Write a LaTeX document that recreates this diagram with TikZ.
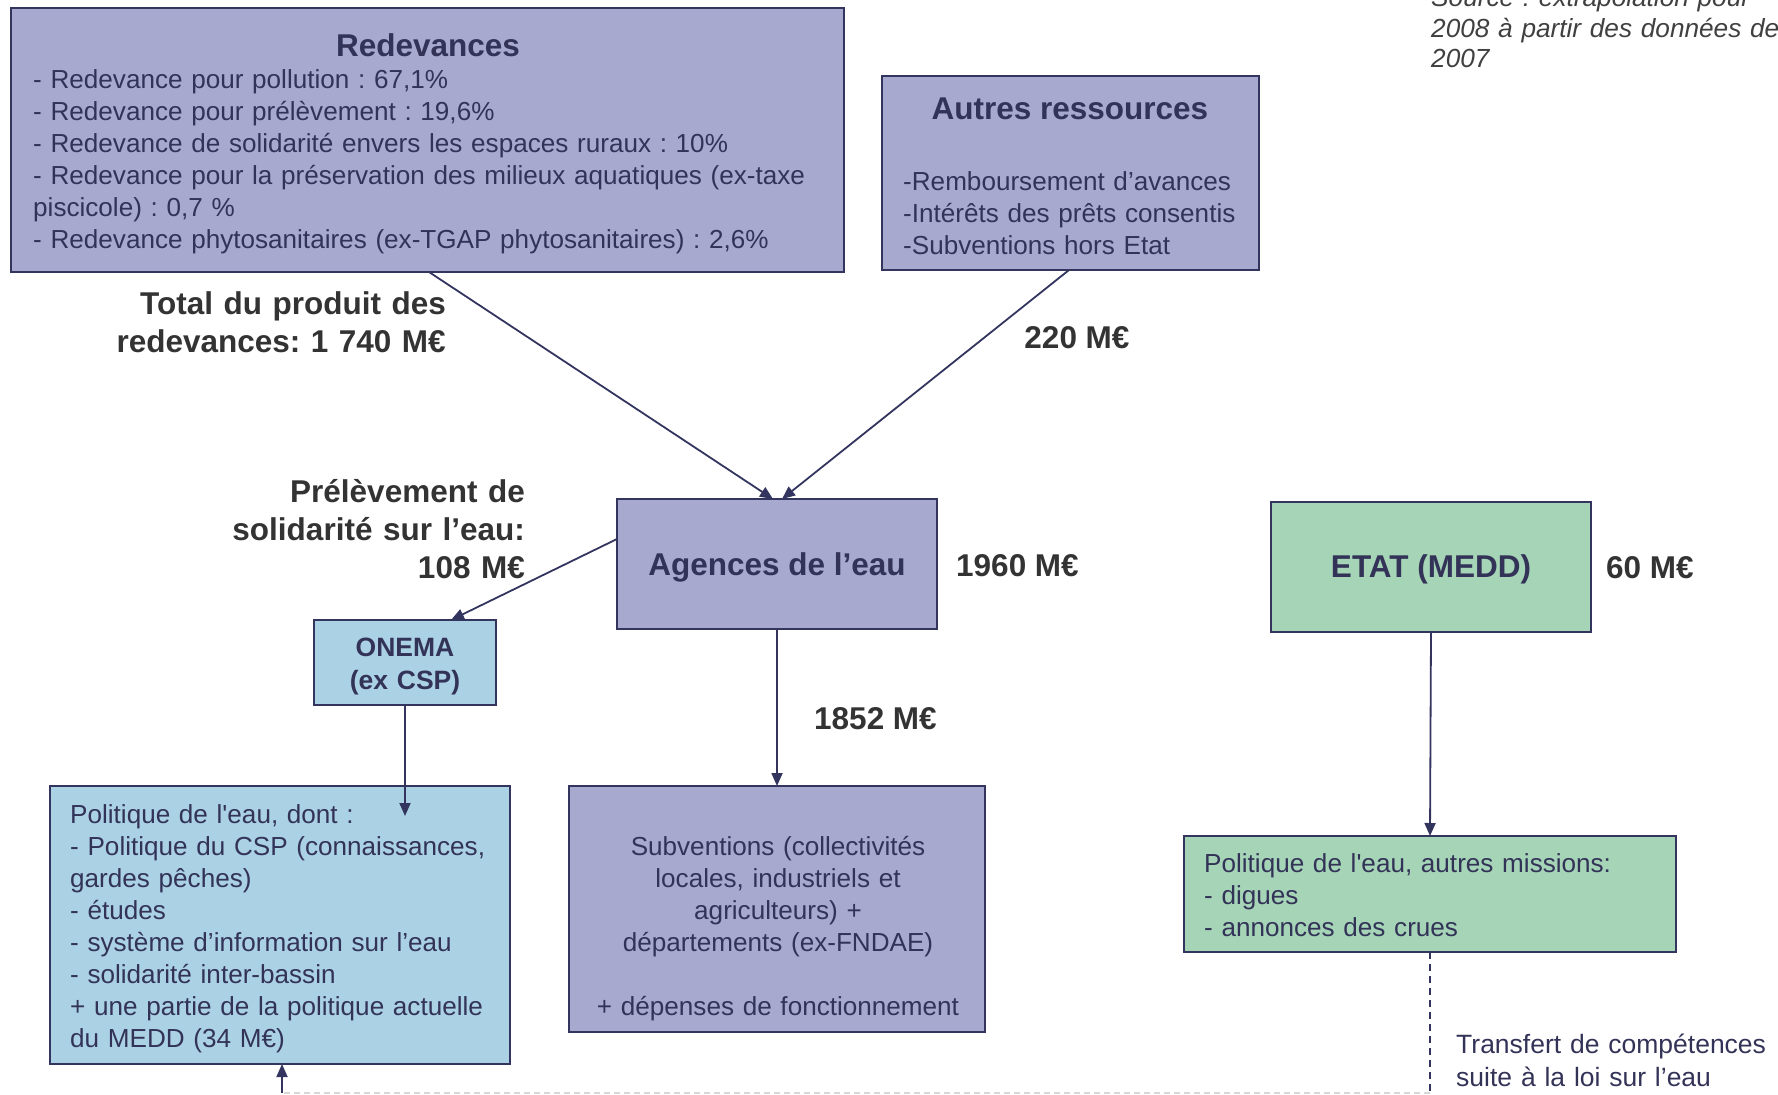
\documentclass[tikz,border=0pt]{standalone}
\usepackage{fontspec}
\setmainfont{Liberation Sans}
\usetikzlibrary{arrows.meta,calc}
\frenchspacing
\definecolor{purplefill}{HTML}{A7A9CE}
\definecolor{bluefill}{HTML}{AAD1E4}
\definecolor{greenfill}{HTML}{A5D4B7}
\definecolor{navy}{HTML}{34355F}
\definecolor{boxtext}{HTML}{333358}
\definecolor{labeltext}{HTML}{333333}
\definecolor{srctext}{HTML}{404040}
\definecolor{faint}{HTML}{D8D8D8}
\tikzset{
  boxshape/.style={draw=navy, line width=2.3pt, inner sep=0pt, outer sep=0pt},
  bodytext/.style={inner sep=0pt, text=boxtext, font=\fontsize{26.1}{32}\selectfont},
  titletext/.style={inner sep=0pt, text=boxtext, font=\bfseries\fontsize{31.5}{38}\selectfont},
  labeltxt/.style={inner sep=0pt, text=labeltext, font=\bfseries\fontsize{31.5}{38.3}\selectfont},
  flow/.style={draw=navy, line width=1.8pt, -{Triangle[length=13pt,width=11pt]}},
  dashflow/.style={draw=navy, line width=1.8pt, dash pattern=on 7pt off 5pt},
}
\begin{document}
\begin{tikzpicture}[x=1pt,y=-1pt]
\useasboundingbox (0,0) rectangle (1778,1095);

% boxes
\node[boxshape, fill=purplefill, minimum width=833, minimum height=264] (red) at (427.5,140) {};
\node[boxshape, fill=purplefill, minimum width=377, minimum height=194] (aut) at (1070.5,173) {};
\node[boxshape, fill=purplefill, minimum width=320, minimum height=130] (ag) at (777,564) {};
\node[boxshape, fill=greenfill, minimum width=320, minimum height=130] (etat) at (1431,567) {};
\node[boxshape, fill=bluefill, minimum width=182, minimum height=85] (onema) at (405,662.5) {};
\node[boxshape, fill=bluefill, minimum width=460, minimum height=278] (pol) at (280,925) {};
\node[boxshape, fill=purplefill, minimum width=416, minimum height=246] (sub) at (777,909) {};
\node[boxshape, fill=greenfill, minimum width=492, minimum height=116] (grn) at (1430,894) {};

% box texts
\node[titletext, anchor=base] (redt) at (428,56) {Redevances};
\node[bodytext, anchor=base west, text width=800, align=left] (redb) at (33,88)
 {- Redevance pour pollution : 67,1\%\\
  - Redevance pour prélèvement : 19,6\%\\
  - Redevance de solidarité envers les espaces ruraux : 10\%\\
  - Redevance pour la préservation des milieux aquatiques (ex-taxe\\
  piscicole) : 0,7 \%\\
  - Redevance phytosanitaires (ex-TGAP phytosanitaires) : 2,6\%};

\node[titletext, anchor=base] (autt) at (1070,119) {Autres ressources};
\node[bodytext, anchor=base west, text width=350, align=left] (autb) at (903,190)
 {-Remboursement d’avances\\
  -Intérêts des prêts consentis\\
  -Subventions hors Etat};

\node[titletext, anchor=base] (agt) at (777,575) {Agences de l’eau};
\node[titletext, anchor=base] (etatt) at (1431,577) {ETAT (MEDD)};
\node[inner sep=0pt, text=boxtext, font=\bfseries\fontsize{26.5}{33}\selectfont,
      anchor=base, text width=180, align=center] (onemat) at (405,656.5)
 {ONEMA\\(ex CSP)};

\node[bodytext, anchor=base west, text width=440, align=left] (polb) at (70,823)
 {Politique de l\textquotesingle eau, dont :\\
  - Politique du CSP (connaissances,\\
  gardes pêches)\\
  - études\\
  - système d’information sur l’eau\\
  - solidarité inter-bassin\\
  + une partie de la politique actuelle\\
  du MEDD (34 M€)};

\node[bodytext, anchor=base, text width=410, align=center] (subb) at (778,855)
 {Subventions (collectivités\\
  locales, industriels et\\
  agriculteurs) +\\
  départements (ex-FNDAE)\\[32pt]
  + dépenses de fonctionnement};

\node[bodytext, anchor=base west, text width=470, align=left] (grnb) at (1204,872)
 {Politique de l\textquotesingle eau, autres missions:\\
  - digues\\
  - annonces des crues};

% labels
\node[labeltxt, anchor=base east, text width=400, align=right] (ltot) at (446,314)
 {Total du produit des\\redevances: 1 740 M€};
\node[labeltxt, anchor=base] (l220) at (1077,348) {220 M€};
\node[labeltxt, anchor=base east, text width=400, align=right] (lpre) at (525,502)
 {Prélèvement de\\solidarité sur l’eau:\\108 M€};
\node[labeltxt, anchor=base west] (l1960) at (956,576) {1960 M€};
\node[labeltxt, anchor=base west] (l60) at (1606,578) {60 M€};
\node[labeltxt, anchor=base west] (l1852) at (814,729) {1852 M€};

\node[inner sep=0pt, text=srctext, font=\itshape\fontsize{26.2}{30.6}\selectfont,
      anchor=base west, text width=360, align=left] (src) at (1431,6.5)
 {Source : extrapolation pour\\2008 à partir des données de\\2007};
\node[inner sep=0pt, text=boxtext, font=\fontsize{26.5}{33}\selectfont,
      anchor=base west, text width=320, align=left] (trans) at (1456,1053)
 {Transfert de compétences\\suite à la loi sur l’eau};

% connectors
\coordinate (polin) at (405,816);
\coordinate (c1) at (1430,1093);
\coordinate (c2) at (282,1093);

\draw[flow] ($(red.south)+(1.5,0)$) -- ($(ag.north)+(-4,0)$);
\draw[flow] ($(aut.south)+(-1.5,0)$) -- ($(ag.north)+(5,0)$);
\draw[flow] ($(ag.west)+(0,-25)$) -- ($(onema.north)+(46,0)$);
\draw[flow] (onema.south) -- (polin);
\draw[flow] (ag.south) -- (sub.north);
\draw[flow] (etat.south) -- (grn.north);
\draw[dashflow] (grn.south) -- (c1);
\draw[draw=faint, line width=1.5pt, dash pattern=on 6pt off 4pt] (c1) -- (c2);
\draw[flow] (c2) -- ($(pol.south)+(2,0)$);
\end{tikzpicture}
\end{document}
